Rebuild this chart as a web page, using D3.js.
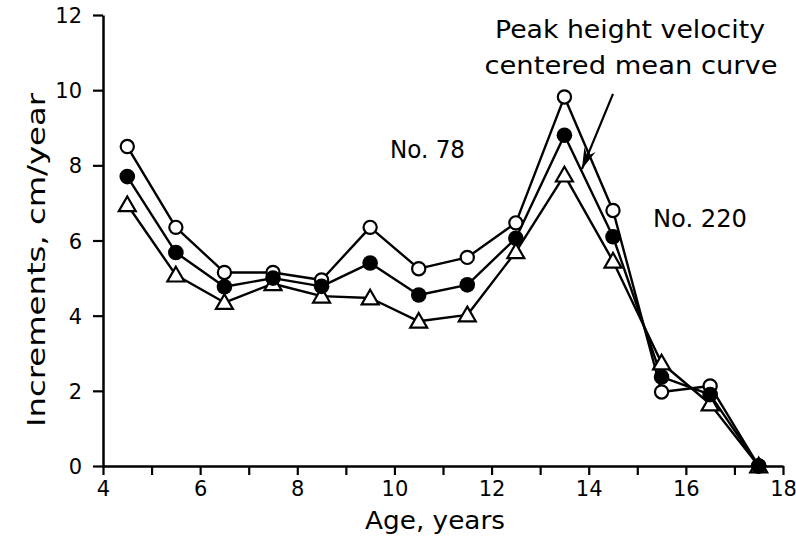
<!DOCTYPE html>
<html><head><meta charset="utf-8">
<script src="https://cdn.jsdelivr.net/npm/d3@7/dist/d3.min.js"></script>
<style>body{margin:0;background:#fff}svg{display:block}text{font-family:"DejaVu Sans",sans-serif;fill:#000}</style>
</head><body>
<svg id="c" width="796" height="537"></svg>
<script>
const ages = [4.5,5.5,6.5,7.5,8.5,9.5,10.5,11.5,12.5,13.5,14.5,15.5,16.5,17.5];
const no78 = [8.5,6.35,5.15,5.15,4.95,6.35,5.25,5.55,6.47,9.82,6.8,1.97,2.13,0];
const mean = [7.7,5.68,4.77,5.0,4.78,5.4,4.55,4.82,6.06,8.8,6.1,2.37,1.9,0];
const no220 = [6.95,5.08,4.35,4.85,4.52,4.47,3.85,4.02,5.7,7.74,5.45,2.74,1.65,0];
const xTicks = [4,5,6,7,8,9,10,11,12,13,14,15,16,17,18];
const xLabels = [4,6,8,10,12,14,16,18];
const yTicks = [0,2,4,6,8,10,12];
const arrowFrom = [14.5, 9.9];
const arrowTo = [13.86, 7.9];

const svg = d3.select("#c");
const x = d3.scaleLinear().domain([4,18]).range([103,783]);
const y = d3.scaleLinear().domain([0,12]).range([466,15]);

// axes
const xa = svg.append("g").attr("transform","translate(0,466)")
  .call(d3.axisBottom(x).tickValues(xTicks).tickSize(9).tickSizeOuter(0)
  .tickFormat(d => xLabels.includes(d) ? d : ""));
const ya = svg.append("g").attr("transform","translate(103,0)")
  .call(d3.axisLeft(y).tickValues(yTicks).tickSize(10).tickSizeOuter(0));
[xa,ya].forEach(g=>{
  g.select(".domain").attr("stroke","#000").attr("stroke-width",2.5);
  g.selectAll(".tick line").attr("stroke","#000").attr("stroke-width",2.2);
  g.selectAll(".tick text").style("font-size","21px").attr("fill","#000");
});
xa.selectAll(".tick text").attr("dy","0.95em").attr("y",10);
ya.selectAll(".tick text").attr("x",-21).attr("dy","0.36em");

function label(txt, xx, yy, size, len, rot){
  const t = svg.append("text").attr("text-anchor","middle").style("font-size",size+"px").text(txt);
  if(rot) t.attr("transform",`translate(${xx},${yy}) rotate(-90)`);
  else t.attr("x",xx).attr("y",yy);
  if(len) t.attr("textLength",len).attr("lengthAdjust","spacingAndGlyphs");
  return t;
}
label("Age, years", 435, 529, 24, 140);
label("Increments, cm/year", 45, 260, 24, 334, true);

const line = d3.line().x((d,i)=>x(ages[i])).y(d=>y(d));
[no78,mean,no220].forEach(s=>{
  svg.append("path").datum(s).attr("d",line).attr("fill","none")
    .attr("stroke","#000").attr("stroke-width",2.4).attr("stroke-linejoin","round");
});
// markers
svg.append("g").selectAll("path").data(no220).join("path")
  .attr("transform",(d,i)=>`translate(${x(ages[i])},${y(d)+1.5})`)
  .attr("d",d3.symbol(d3.symbolTriangle,125)())
  .attr("fill","#fff").attr("stroke","#000").attr("stroke-width",2.2);
svg.append("g").selectAll("circle").data(no78).join("circle")
  .attr("cx",(d,i)=>x(ages[i])).attr("cy",d=>y(d)).attr("r",6.6)
  .attr("fill","#fff").attr("stroke","#000").attr("stroke-width",2.2);
svg.append("g").selectAll("circle").data(mean).join("circle")
  .attr("cx",(d,i)=>x(ages[i])).attr("cy",d=>y(d)).attr("r",7.8)
  .attr("fill","#000");

// arrow
const ax1=x(arrowFrom[0]), ay1=y(arrowFrom[1]), ax2=x(arrowTo[0]), ay2=y(arrowTo[1]);
svg.append("line").attr("x1",ax1).attr("y1",ay1).attr("x2",ax2).attr("y2",ay2)
  .attr("stroke","#000").attr("stroke-width",2.2);
const ang = Math.atan2(ay2-ay1, ax2-ax1);
const L=22, W=0.28;
const p1=[ax2-L*Math.cos(ang-W), ay2-L*Math.sin(ang-W)];
const p2=[ax2-L*Math.cos(ang+W), ay2-L*Math.sin(ang+W)];
const pm=[ax2-L*0.65*Math.cos(ang), ay2-L*0.65*Math.sin(ang)];
svg.append("path").attr("d",`M${ax2},${ay2}L${p1}L${pm}L${p2}Z`).attr("fill","#000");

// annotations
label("Peak height velocity", 630, 38, 24, 270);
label("centered mean curve", 631, 74, 24, 293);
svg.append("text").attr("x",390).attr("y",158).style("font-size","24px").attr("textLength",75).attr("lengthAdjust","spacingAndGlyphs").text("No. 78");
svg.append("text").attr("x",653).attr("y",227).style("font-size","24px").attr("textLength",94).attr("lengthAdjust","spacingAndGlyphs").text("No. 220");
</script>
</body></html>
